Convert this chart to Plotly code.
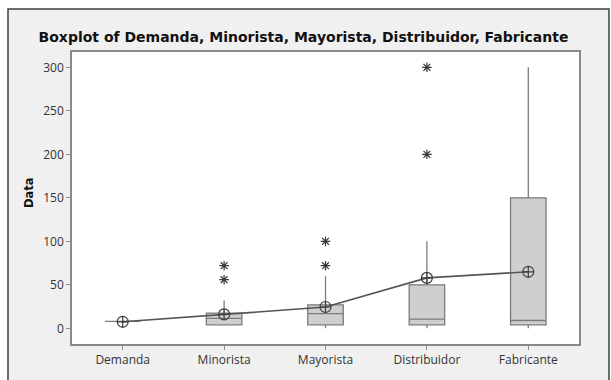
import plotly.graph_objects as go

# Summary statistics for each echelon of the supply chain
categories = ["Demanda", "Minorista", "Mayorista", "Distribuidor", "Fabricante"]
q1_vals = [8, 4, 4, 4, 4]
median_vals = [8, 11.5, 17, 10.5, 9]
q3_vals = [8, 17.5, 27, 50, 150]
lower_whisker = [8, 4, 0, 0, 0]
upper_whisker = [8, 32, 60, 100, 300]
mean_vals = [7.5, 16, 24.5, 58, 65]

# Points beyond the whiskers
outlier_cats = ["Minorista", "Minorista", "Mayorista", "Mayorista", "Distribuidor", "Distribuidor"]
outlier_vals = [56, 72, 72, 100, 200, 300]

y_ticks = [0, 50, 100, 150, 200, 250, 300]

W, H = 611, 380
L, R, T, B = 72, 579, 52, 344

fig = go.Figure()

fig.add_trace(go.Box(
    x=categories,
    q1=q1_vals,
    median=median_vals,
    q3=q3_vals,
    lowerfence=lower_whisker,
    upperfence=upper_whisker,
    width=0.35,
    whiskerwidth=0,
    fillcolor="#cfcfd2",
    line=dict(color="#7c7c7e", width=1.3),
    boxpoints=False,
    hoverinfo="skip",
    showlegend=False,
))

fig.add_trace(go.Scatter(
    x=outlier_cats,
    y=outlier_vals,
    mode="markers",
    marker=dict(symbol="asterisk-open", size=8, color="#3a3a3a",
                line=dict(color="#3a3a3a", width=1.2)),
    showlegend=False,
))

fig.add_trace(go.Scatter(
    x=categories,
    y=mean_vals,
    mode="lines+markers",
    line=dict(color="#555555", width=1.6),
    marker=dict(symbol="circle-cross-open", size=11, color="#3c3c3c",
                line=dict(color="#3c3c3c", width=1.2)),
    showlegend=False,
))

# Paper-coordinate helpers for the outer frame
def px_x(p):
    return (p - L) / (R - L)

def px_y(p):
    return (B - p) / (B - T)

fig.add_shape(type="rect", xref="paper", yref="paper",
              x0=px_x(8), x1=px_x(609), y0=px_y(390), y1=px_y(9),
              fillcolor="#f0f0f0", line=dict(color="#3e3e3e", width=1.5),
              layer="below")
fig.add_shape(type="rect", xref="paper", yref="paper",
              x0=0, x1=1, y0=0, y1=1,
              fillcolor="white", line=dict(width=0), layer="below")

# Vertical axis label
fig.add_annotation(
    text="<b>Data</b>", textangle=-90,
    xref="paper", yref="paper", x=px_x(29), y=px_y(193),
    xanchor="center", yanchor="middle", showarrow=False,
    font=dict(family="DejaVu Sans", size=11.5, color="#111111"),
)

fig.update_layout(
    width=W, height=H,
    margin=dict(l=L, r=W - R, t=T, b=H - B),
    paper_bgcolor="white",
    plot_bgcolor="white",
    font=dict(family="Open Sans", color="#333333", size=12),
    title=dict(
        text="<b>Boxplot of Demanda, Minorista, Mayorista, Distribuidor, Fabricante</b>",
        x=303.5 / W, xanchor="center", xref="container",
        y=1 - 37 / H, yanchor="middle", yref="container",
        font=dict(family="DejaVu Sans", size=14, color="#111111"),
    ),
    xaxis=dict(
        range=[-0.5, 4.5],
        showgrid=False, zeroline=False,
        showline=True, linecolor="#8a8a8a", linewidth=1.5, mirror=True,
        ticks="outside", ticklen=4, tickcolor="#8a8a8a",
        tickfont=dict(size=12, color="#333333"),
        fixedrange=True,
    ),
    yaxis=dict(
        range=[-18, 317.6],
        tickvals=y_ticks,
        showgrid=False, zeroline=False,
        showline=True, linecolor="#8a8a8a", linewidth=1.5, mirror=True,
        ticks="outside", ticklen=4, tickcolor="#8a8a8a",
        tickfont=dict(size=12, color="#333333"),
        fixedrange=True,
    ),
)

fig.write_html("out.html")
